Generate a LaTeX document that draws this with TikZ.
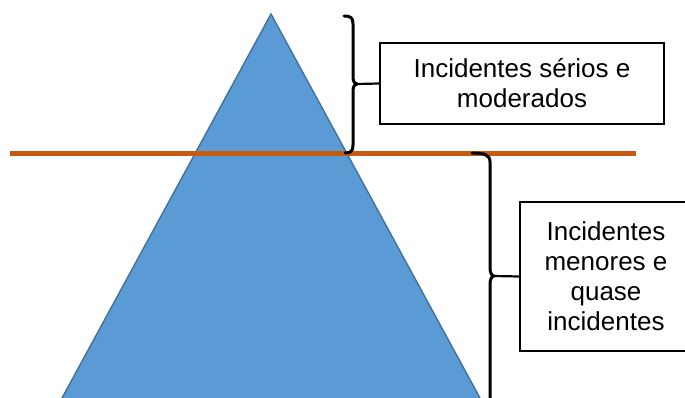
\documentclass[tikz,border=0pt]{standalone}
\usepackage{fontspec}
\setmainfont{Liberation Sans}
\definecolor{pyrFill}{HTML}{5B9BD5}
\definecolor{pyrEdge}{HTML}{41719C}
\definecolor{waterLine}{HTML}{C55A11}
\begin{document}
\begin{tikzpicture}[x=1pt,y=-1pt,
  label box/.style={draw=black, line width=1.6pt, fill=white, align=center,
    font=\fontsize{26}{30}\selectfont, inner sep=0pt},
  brace line/.style={draw=black, line width=3pt, line cap=round, line join=round},
  link/.style={draw=black, line width=2.2pt}]
\useasboundingbox (0,0) rectangle (685,398);
\clip (0,0) rectangle (685,398);

% pyramid (base runs below the lower edge)
\filldraw[fill=pyrFill, draw=pyrEdge, line width=1.4pt]
  (271,14) -- (486.5,410) -- (55.5,410) -- cycle;

% horizontal split line
\draw[waterLine, line width=5pt] (10,153.5) -- (636,153.5);

% label boxes
\node[label box, minimum width=284pt, minimum height=81pt] (serios) at (522,83.5)
  {Incidentes sérios e\\moderados};
\node[label box, minimum width=172pt, minimum height=149pt] (menores) at (606,276.5)
  {Incidentes\\menores e\\quase\\incidentes};

% upper brace
\coordinate (tipA) at (357,84);
\draw[brace line] (344,16) .. controls (351,16) and (353,18) .. (353,24)
  -- (353,77) .. controls (353,82) and (355,84) .. (tipA)
  .. controls (355,84) and (353,86) .. (353,91)
  -- (353,145) .. controls (353,151) and (351,153) .. (345,153);
\draw[link] (tipA) -- (serios.west);

% lower brace
\coordinate (tipB) at (494,276);
\draw[brace line] (472,153) .. controls (485,153) and (490,155) .. (490,162)
  -- (490,268) .. controls (490,273) and (492,276) .. (tipB)
  .. controls (492,276) and (490,279) .. (490,284) -- (490,410);
\draw[link] (tipB) -- (menores.west);
\end{tikzpicture}
\end{document}
